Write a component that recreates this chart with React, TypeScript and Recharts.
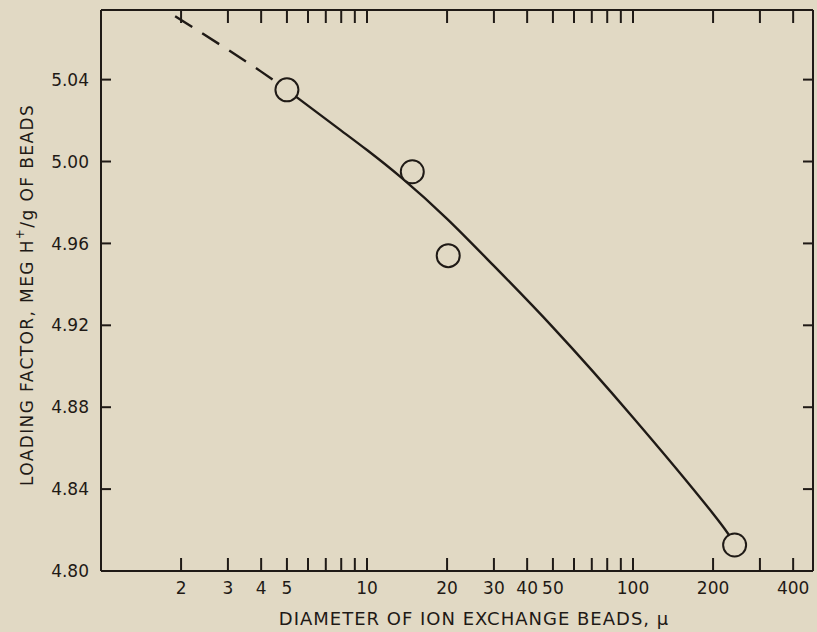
import React from "react";
import {
  ComposedChart,
  Line,
  Scatter,
  XAxis,
  YAxis,
  Label,
} from "recharts";

// bead diameter (microns) vs loading factor (meq H+/g)
const measuredDiameter = [5, 14.8, 20.2, 241];
const measuredLoading = [5.035, 4.995, 4.954, 4.8127];

// extrapolated (dashed) part of the curve
const dashedDiameter = [1.9, 3, 4, 5];
const dashedLoading = [5.071, 5.0546, 5.0439, 5.035];

// fitted (solid) part of the curve
const solidDiameter = [5, 8, 10, 13.5, 20, 30, 50, 100, 200, 241];
const solidLoading = [5.035, 5.0151, 5.0056, 4.992, 4.972, 4.949, 4.919, 4.875, 4.828, 4.813];

const xTicks = [2, 3, 4, 5, 6, 7, 8, 9, 10, 20, 30, 40, 50, 60, 70, 80, 90, 100, 200, 300, 400];
const xLabeled = [2, 3, 4, 5, 10, 20, 30, 40, 50, 100, 200, 400];
const yTicks = [4.8, 4.84, 4.88, 4.92, 4.96, 5.0, 5.04];

const INK = "#1f1a16";
const PAPER = "#e1d9c4";
const FONT = "'DejaVu Sans', 'Liberation Sans', sans-serif";

const toRows = (xs: number[], ys: number[]) => xs.map((d, i) => ({ d, v: ys[i] }));

const points = toRows(measuredDiameter, measuredLoading);
const dashed = toRows(dashedDiameter, dashedLoading);
const solid = toRows(solidDiameter, solidLoading);

const BottomTick = ({ x, y, payload }: any) => (
  <g>
    <line x1={x} x2={x} y1={y} y2={y - 13} stroke={INK} strokeWidth={2} />
    {xLabeled.includes(payload.value) && (
      <text x={x} y={y + 23} textAnchor="middle" fontSize={17} fontFamily={FONT} fill={INK}>
        {payload.value}
      </text>
    )}
  </g>
);

const TopTick = ({ x, y }: any) => (
  <line x1={x} x2={x} y1={y} y2={y + 13} stroke={INK} strokeWidth={2} />
);

const LeftTick = ({ x, y, payload }: any) => (
  <g>
    {payload.value > 4.8 && (
      <line x1={x} x2={x + 10} y1={y} y2={y} stroke={INK} strokeWidth={2} />
    )}
    <text x={x - 12} y={y} dy="0.36em" textAnchor="end" fontSize={17} fontFamily={FONT} fill={INK}>
      {Number(payload.value).toFixed(2)}
    </text>
  </g>
);

const RightTick = ({ x, y, payload }: any) =>
  payload.value > 4.8 ? (
    <line x1={x} x2={x - 10} y1={y} y2={y} stroke={INK} strokeWidth={2} />
  ) : (
    <g />
  );

const Ring = ({ cx, cy }: any) => (
  <circle cx={cx} cy={cy} r={11.5} fill={PAPER} stroke={INK} strokeWidth={2} />
);

export default function App() {
  return (
    <div
      style={{
        position: "absolute",
        left: 0,
        top: 0,
        width: 817,
        height: 632,
        background: PAPER,
      }}
    >
      <ComposedChart
        width={817}
        height={632}
        margin={{ top: 9, right: 3, bottom: 60, left: 100 }}
      >
        <XAxis
          dataKey="d"
          type="number"
          scale="log"
          domain={[1, 475]}
          allowDataOverflow
          ticks={xTicks}
          interval={0}
          height={1}
          tickSize={0}
          tickMargin={0}
          tickLine={false}
          tick={<BottomTick />}
          axisLine={{ stroke: INK, strokeWidth: 2 }}
        >
          <Label
            content={() => (
              <text
                x={474}
                y={625}
                textAnchor="middle"
                fontSize={18}
                letterSpacing={1}
                fontFamily={FONT}
                fill={INK}
              >
                DIAMETER OF ION EXCHANGE BEADS, μ
              </text>
            )}
          />
        </XAxis>
        <XAxis
          xAxisId="top"
          orientation="top"
          dataKey="d"
          type="number"
          scale="log"
          domain={[1, 475]}
          allowDataOverflow
          ticks={xTicks}
          interval={0}
          height={1}
          tickSize={0}
          tickMargin={0}
          tickLine={false}
          tick={<TopTick />}
          axisLine={{ stroke: INK, strokeWidth: 2 }}
        />
        <YAxis
          dataKey="v"
          type="number"
          domain={[4.8, 5.074]}
          allowDataOverflow
          ticks={yTicks}
          interval={0}
          width={1}
          tickSize={0}
          tickMargin={0}
          tickLine={false}
          tick={<LeftTick />}
          axisLine={{ stroke: INK, strokeWidth: 2 }}
        >
          <Label
            content={() => (
              <text
                x={27}
                y={295}
                transform="rotate(-90 27 295)"
                textAnchor="middle"
                dominantBaseline="central"
                fontSize={17}
                letterSpacing={1.4}
                fontFamily={FONT}
                fill={INK}
              >
                LOADING FACTOR, MEG H
                <tspan fontSize={12} dy={-7}>+</tspan>
                <tspan dy={7}>/g OF BEADS</tspan>
              </text>
            )}
          />
        </YAxis>
        <YAxis
          yAxisId="right"
          orientation="right"
          dataKey="v"
          type="number"
          domain={[4.8, 5.074]}
          allowDataOverflow
          ticks={yTicks}
          interval={0}
          width={1}
          tickSize={0}
          tickMargin={0}
          tickLine={false}
          tick={<RightTick />}
          axisLine={{ stroke: INK, strokeWidth: 2 }}
        />
        <Line
          data={dashed}
          dataKey="v"
          type="natural"
          stroke={INK}
          strokeWidth={2.4}
          strokeDasharray="20 12"
          dot={false}
          activeDot={false}
          isAnimationActive={false}
        />
        <Line
          data={solid}
          dataKey="v"
          type="natural"
          stroke={INK}
          strokeWidth={2.4}
          dot={false}
          activeDot={false}
          isAnimationActive={false}
        />
        <Scatter
          data={points}
          dataKey="v"
          shape={<Ring />}
          isAnimationActive={false}
        />
      </ComposedChart>
    </div>
  );
}
